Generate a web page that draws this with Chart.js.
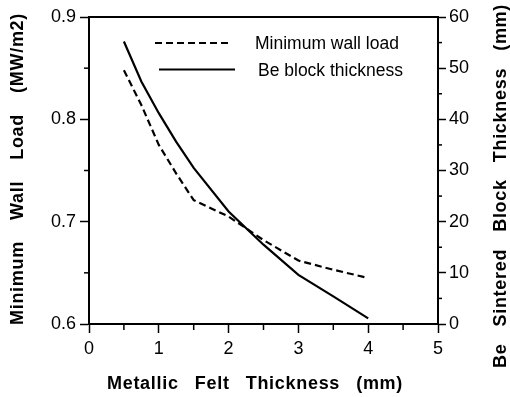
<!DOCTYPE html>
<html>
<head>
<meta charset="utf-8">
<script src="https://cdn.jsdelivr.net/npm/chart.js@4"></script>
<style>
html,body{margin:0;padding:0;background:#fff;}
#wrap{width:510px;height:397px;}
</style>
</head>
<body>
<div id="wrap"><canvas id="c" width="510" height="397"></canvas></div>
<script>
// ---- data ----
const feltThickness = [0.5, 0.75, 1, 1.25, 1.5, 2, 2.5, 3, 3.5, 4];          // mm
const minWallLoad   = [0.848, 0.814, 0.775, 0.747, 0.721, 0.705, 0.682, 0.662, 0.653, 0.645]; // MW/m2
const beThickness   = [55.2, 47.4, 41.2, 35.6, 30.5, 22.0, 15.5, 9.6, 5.4, 1.1]; // mm
const seriesNames   = ["Minimum wall load", "Be block thickness"];
const xTitle  = "Metallic Felt Thickness (mm)";
const yTitle  = "Minimum Wall Load (MW/m2)";
const y2Title = "Be Sintered Block Thickness (mm)";

const FONT = '"Liberation Sans", Arial, Helvetica, sans-serif';
Chart.defaults.font.family = FONT;
Chart.defaults.color = '#000';

function pts(xs, ys){ return xs.map((x,i)=>({x:x, y:ys[i]})); }

function drawWords(ctx, text, cx, cy, angle, targetWidth){
  const words = text.split(' ');
  const widths = words.map(w=>ctx.measureText(w).width);
  const sum = widths.reduce((a,b)=>a+b,0);
  const gap = (targetWidth - sum)/(words.length-1);
  ctx.save();
  ctx.translate(cx, cy);
  ctx.rotate(angle);
  ctx.textBaseline = 'middle';
  ctx.textAlign = 'left';
  let x = -targetWidth/2;
  words.forEach((w,i)=>{ ctx.fillText(w, x, 0); x += widths[i] + gap; });
  ctx.restore();
}

const decor = {
  id: 'decor',
  afterDraw(chart){
    const ctx = chart.ctx;
    const ca = chart.chartArea;
    const sx = chart.scales.x, sy = chart.scales.y, sy2 = chart.scales.y1;
    ctx.save();
    ctx.strokeStyle = '#000';
    // top frame line
    ctx.lineWidth = 2;
    ctx.beginPath(); ctx.moveTo(ca.left-1, ca.top); ctx.lineTo(ca.right+1, ca.top); ctx.stroke();
    // minor ticks
    ctx.lineWidth = 1.5;
    for (let v = 0.5; v < 5; v += 1){
      const p = sx.getPixelForValue(v);
      ctx.beginPath(); ctx.moveTo(p, ca.bottom); ctx.lineTo(p, ca.bottom+6); ctx.stroke();
    }
    for (let v = 0.65; v < 0.9; v += 0.1){
      const p = sy.getPixelForValue(v);
      ctx.beginPath(); ctx.moveTo(ca.left, p); ctx.lineTo(ca.left-5, p); ctx.stroke();
    }
    for (let v = 5; v < 60; v += 10){
      const p = sy2.getPixelForValue(v);
      ctx.beginPath(); ctx.moveTo(ca.right, p); ctx.lineTo(ca.right+4, p); ctx.stroke();
    }
    // legend
    const ds = chart.data.datasets;
    const leg = [
      {x0:155, x1:230, y:43, tx:255, ty:44},
      {x0:159, x1:235, y:69.5, tx:258, ty:71}
    ];
    ctx.font = '17.5px ' + FONT;
    ctx.fillStyle = '#000';
    ctx.textBaseline = 'middle';
    ctx.textAlign = 'left';
    leg.forEach((l,i)=>{
      ctx.save();
      ctx.lineWidth = ds[i].borderWidth;
      ctx.setLineDash(ds[i].borderDash || []);
      ctx.beginPath(); ctx.moveTo(l.x0, l.y); ctx.lineTo(l.x1, l.y); ctx.stroke();
      ctx.restore();
      ctx.fillText(ds[i].label, l.tx, l.ty);
    });
    // axis titles
    ctx.font = 'bold 18px ' + FONT;
    try { ctx.letterSpacing = '0.7px'; } catch(e) {}
    drawWords(ctx, xTitle, 255, 384, 0, 296);
    drawWords(ctx, yTitle, 18, 169, -Math.PI/2, 312);
    drawWords(ctx, y2Title, 501, 186, -Math.PI/2, 364);
    ctx.restore();
  }
};

new Chart(document.getElementById('c'), {
  type: 'line',
  data: {
    datasets: [
      { label: seriesNames[0], data: pts(feltThickness, minWallLoad), yAxisID: 'y',
        borderColor: '#000', borderWidth: 2.2, borderDash: [7,4], pointRadius: 0, tension: 0, fill: false },
      { label: seriesNames[1], data: pts(feltThickness, beThickness), yAxisID: 'y1',
        borderColor: '#000', borderWidth: 2.2, pointRadius: 0, tension: 0, fill: false }
    ]
  },
  options: {
    responsive: false,
    animation: false,
    devicePixelRatio: 1,
    layout: { padding: { top: 17, left: 0, right: 0, bottom: 0 } },
    plugins: { legend: { display: false }, tooltip: { enabled: false } },
    scales: {
      x: {
        type: 'linear', min: 0, max: 5,
        ticks: { stepSize: 1, font: { size: 18 }, padding: 5, maxRotation: 0 },
        grid: { drawOnChartArea: false, drawTicks: true, tickLength: 9, tickColor: '#000', tickWidth: 1.5 },
        border: { display: true, color: '#000', width: 2 },
        afterFit: s => { s.height = 73; }
      },
      y: {
        type: 'linear', position: 'left', min: 0.6, max: 0.9,
        ticks: { stepSize: 0.1, font: { size: 18 }, padding: 4, callback: v => v.toFixed(1) },
        grid: { drawOnChartArea: false, drawTicks: true, tickLength: 9, tickColor: '#000', tickWidth: 1.5 },
        border: { display: true, color: '#000', width: 2 },
        afterFit: s => { s.width = 89; }
      },
      y1: {
        type: 'linear', position: 'right', min: 0, max: 60,
        ticks: { stepSize: 10, font: { size: 18 }, padding: 3 },
        grid: { drawOnChartArea: false, drawTicks: true, tickLength: 8, tickColor: '#000', tickWidth: 1.5 },
        border: { display: true, color: '#000', width: 2 },
        afterFit: s => { s.width = 72; }
      }
    }
  },
  plugins: [decor]
});
</script>
</body>
</html>
